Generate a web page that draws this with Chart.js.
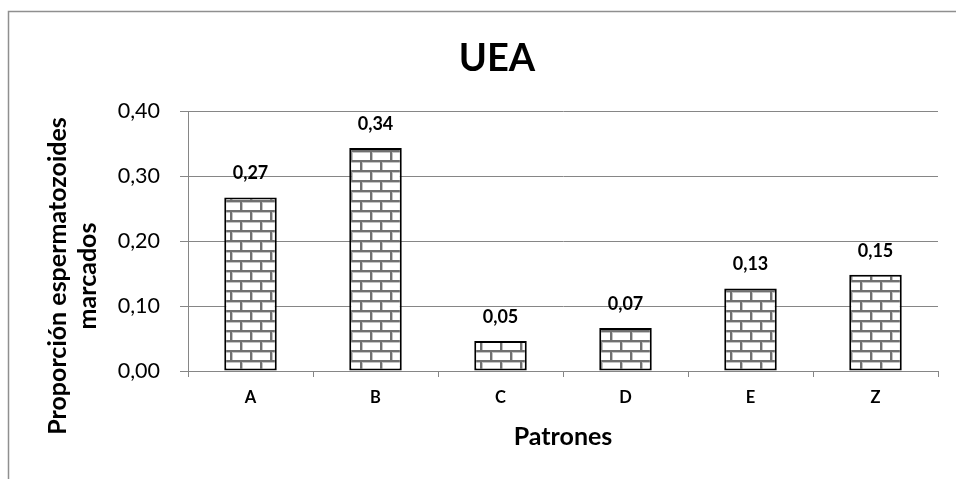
<!DOCTYPE html>
<html>
<head>
<meta charset="utf-8">
<script src="https://cdn.jsdelivr.net/npm/chart.js@4.4.1/dist/chart.umd.min.js"></script>
<style>
  html, body { margin: 0; padding: 0; background: #ffffff; }
  #wrap { width: 956px; height: 479px; position: relative; }
</style>
</head>
<body>
<div id="wrap"><canvas id="chart" width="956" height="479"></canvas></div>
<script>
// Patterns on the x axis and the proportion of marked sperm for each one
const categories = ['A', 'B', 'C', 'D', 'E', 'Z'];
const proportions = [0.267, 0.343, 0.046, 0.066, 0.127, 0.148];
const yTicks = [0, 0.1, 0.2, 0.3, 0.4];
const chartTitle = 'UEA';
const yTitleLines = ['Proporción espermatozoides', 'marcados'];
const xTitle = 'Patrones';

const FONT = 'Lato, "Open Sans", sans-serif';
const GRID = '#868686';

// Brick fill for the bars
function brickPattern() {
  const c = document.createElement('canvas');
  c.width = 20; c.height = 20;
  const g = c.getContext('2d');
  g.fillStyle = '#ffffff';
  g.fillRect(0, 0, 20, 20);
  g.fillStyle = '#c4c4c4';
  g.fillRect(0, 2, 20, 1);
  g.fillRect(0, 12, 20, 1);
  g.fillRect(2, 0, 1, 10);
  g.fillRect(12, 10, 1, 10);
  g.fillStyle = '#707070';
  g.fillRect(0, 0, 20, 2);
  g.fillRect(0, 10, 20, 2);
  g.fillRect(0, 0, 2, 10);
  g.fillRect(10, 10, 2, 10);
  return c.getContext('2d').createPattern(c, 'repeat');
}

const fmt = v => v.toFixed(2).replace('.', ',');

// Frame, chart title and the two-line y axis title
const framePlugin = {
  id: 'frame',
  beforeDraw(chart) {
    const ctx = chart.ctx;
    ctx.save();
    ctx.fillStyle = '#ffffff';
    ctx.fillRect(0, 0, chart.width, chart.height);
    ctx.strokeStyle = '#8f8f8f';
    ctx.lineWidth = 1.5;
    ctx.beginPath();
    ctx.moveTo(8.5, chart.height);
    ctx.lineTo(8.5, 11.5);
    ctx.lineTo(chart.width, 11.5);
    ctx.stroke();

    ctx.fillStyle = '#000000';
    ctx.textAlign = 'center';
    ctx.textBaseline = 'middle';
    ctx.font = 'bold 38px ' + FONT;
    ctx.fillText(chartTitle, 497, 59);

    ctx.font = 'bold 25px ' + FONT;
    ctx.translate(0, 276);
    ctx.rotate(-Math.PI / 2);
    yTitleLines.forEach((line, i) => ctx.fillText(line, 0, 58 + i * 30));
    ctx.restore();
  }
};

// Value written above every bar
const valueLabels = {
  id: 'valueLabels',
  afterDatasetsDraw(chart) {
    const ctx = chart.ctx;
    const meta = chart.getDatasetMeta(0);
    ctx.save();
    ctx.font = 'bold 18px ' + FONT;
    ctx.fillStyle = '#000000';
    ctx.textAlign = 'center';
    ctx.textBaseline = 'middle';
    meta.data.forEach((bar, i) => {
      ctx.fillText(fmt(chart.data.datasets[0].data[i]), bar.x, bar.y - 24);
    });
    ctx.restore();
  }
};

new Chart(document.getElementById('chart'), {
  type: 'bar',
  data: {
    labels: categories,
    datasets: [{
      data: proportions,
      backgroundColor: brickPattern(),
      borderColor: '#000000',
      borderWidth: 2,
      borderSkipped: false,
      categoryPercentage: 1,
      barPercentage: 0.42
    }]
  },
  options: {
    responsive: false,
    animation: false,
    layout: { padding: { left: 0, right: 18, top: 111, bottom: 0 } },
    plugins: {
      legend: { display: false },
      tooltip: { enabled: false },
      title: { display: false }
    },
    scales: {
      x: {
        afterFit(scale) { scale.height = 108; },
        grid: {
          drawOnChartArea: false,
          drawTicks: true,
          tickLength: 6,
          color: GRID,
          offset: true
        },
        border: { display: true, color: GRID, width: 1 },
        ticks: {
          color: '#000000',
          padding: 11,
          font: { family: FONT, size: 16.5, weight: 'bold' }
        },
        title: {
          display: true,
          text: xTitle,
          color: '#000000',
          font: { family: FONT, size: 25, weight: 'bold', lineHeight: 1.2 },
          padding: { top: 0, bottom: 27 }
        }
      },
      y: {
        min: 0,
        max: 0.4,
        afterFit(scale) { scale.width = 188; },
        afterBuildTicks(scale) { scale.ticks = yTicks.map(v => ({ value: v })); },
        grid: {
          color: GRID,
          lineWidth: 1,
          drawTicks: true,
          tickLength: 8
        },
        border: { display: true, color: GRID, width: 1 },
        ticks: {
          color: '#000000',
          padding: 20,
          font: { family: FONT, size: 21.5 },
          callback: v => fmt(v)
        },
        title: { display: false }
      }
    }
  },
  plugins: [framePlugin, valueLabels]
});
</script>
</body>
</html>
